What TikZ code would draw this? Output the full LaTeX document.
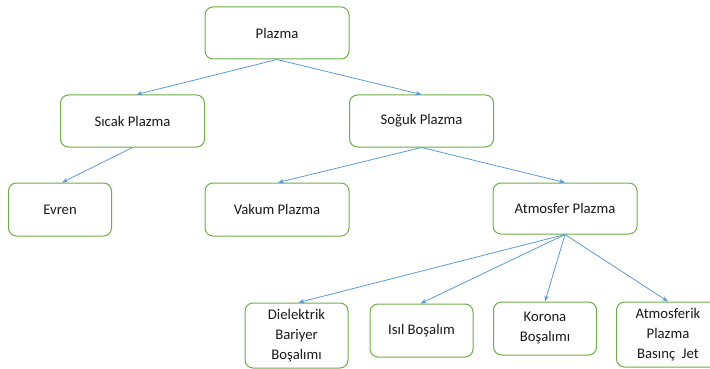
\documentclass[tikz,border=0pt]{standalone}
\usepackage{fontspec}
\setmainfont{Carlito}
\usetikzlibrary{arrows.meta}
\definecolor{boxgreen}{HTML}{70AD47}
\definecolor{arrowblue}{HTML}{5B9BD5}
\definecolor{textgray}{HTML}{1A1A1A}
\begin{document}
\begin{tikzpicture}[x=1pt,y=-1pt,
  box/.style={draw=boxgreen, line width=1pt, rounded corners=8pt, fill=white,
    align=center, inner sep=0pt, text=textgray, font=\fontsize{14.7}{20}\selectfont},
  wide/.style={box, minimum width=144pt, minimum height=52pt},
  narrow/.style={box, minimum width=103pt},
  arr/.style={draw=arrowblue, line width=0.8pt, -{Stealth[length=6pt,width=4.5pt]}}]
\useasboundingbox (0,0) rectangle (710,369);
\clip (0,0) rectangle (710,369);
\node[wide] (plazma) at (277,33) {Plazma};
\node[wide] (sicak) at (132.5,121) {Sıcak Plazma};
\node[wide] (soguk) at (421.5,121) {Soğuk Plazma};
\node[narrow, minimum height=53pt] (evren) at (60,209.5) {Evren};
\node[wide, minimum height=53pt] (vakum) at (277,209.5) {Vakum Plazma};
\node[wide, minimum height=51pt] (atmosfer) at (565,208.5) {Atmosfer Plazma};
\node[narrow, minimum height=65pt] (dielektrik) at (296.5,335.5) {Dielektrik\\Bariyer\\Boşalımı};
\node[narrow, minimum height=53pt] (isil) at (421.5,330.5) {Isıl Boşalım};
\node[narrow, minimum height=53pt] (korona) at (545,328.5) {Korona\\Boşalımı};
\node[narrow, minimum height=65pt] (atmosferik) at (668,334.5) {Atmosferik\\Plazma\\Basınç\ \ Jet};
\draw[arr] (plazma.south) -- ([xshift=4pt]sicak.north);
\draw[arr] (plazma.south) -- (soguk.north);
\draw[arr] (sicak.south) -- ([xshift=2pt]evren.north);
\draw[arr] (soguk.south) -- ([xshift=1pt]vakum.north);
\draw[arr] (soguk.south) -- (atmosfer.north);
\draw[arr] (atmosfer.south) -- ([xshift=2pt]dielektrik.north);
\draw[arr] (atmosfer.south) -- ([xshift=-1pt]isil.north);
\draw[arr] (atmosfer.south) -- (korona.north);
\draw[arr] (atmosfer.south) -- (atmosferik.north);
\end{tikzpicture}
\end{document}
